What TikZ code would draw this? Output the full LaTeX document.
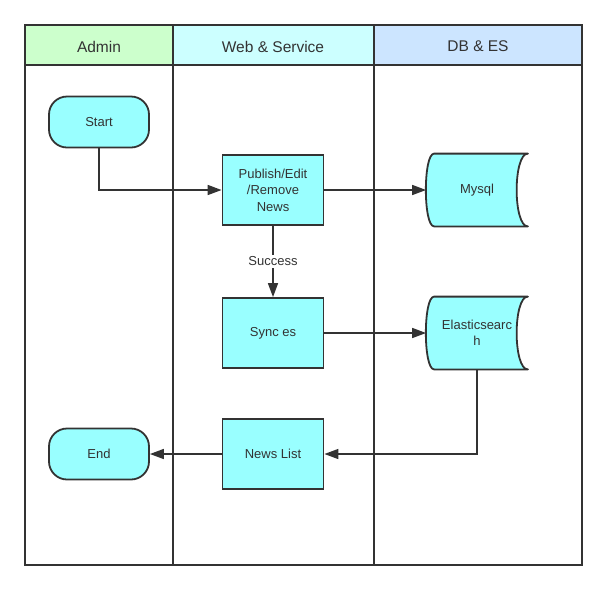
\documentclass[tikz,border=0pt]{standalone}
\usepackage{fontspec}
\setmainfont{Liberation Sans}
\usetikzlibrary{arrows.meta,backgrounds}
\definecolor{adminbg}{HTML}{CCFFCC}
\definecolor{webbg}{HTML}{CCFFFF}
\definecolor{dbbg}{HTML}{CCE5FF}
\definecolor{boxbg}{HTML}{99FFFF}
\definecolor{ink}{HTML}{333333}
\begin{document}
\begin{tikzpicture}[x=1pt, y=-1pt, line width=1.8pt, color=ink,
  every node/.style={font=\fontsize{13}{16.5}\selectfont, align=center},
  lanehead/.style={font=\fontsize{15.5}{18}\selectfont},
  terminal/.style={draw, fill=boxbg, rounded corners=18pt, minimum width=100pt, minimum height=51pt},
  process/.style={draw, fill=boxbg, minimum width=101pt, minimum height=70pt},
  store/.style={minimum width=100pt, minimum height=71pt},
  storeline/.style={draw=ink, line width=1.8pt, line join=round, fill=boxbg},
  flow/.style={line width=1.6pt, -{Triangle[length=14pt,width=10pt]}}]
\useasboundingbox (0,0) rectangle (607,590);

% lane headers
\filldraw[fill=adminbg] (25,25) rectangle (173,65);
\filldraw[fill=webbg] (173,25) rectangle (374,65);
\filldraw[fill=dbbg] (374,25) rectangle (582,65);
\node[lanehead] (admin) at (99,46.5) {Admin};
\node[lanehead] (web) at (273,46.5) {Web \& Service};
\node[lanehead] (db) at (478,46.5) {DB \& ES};

% lanes
\draw (25,25) rectangle (582,565);
\draw (173,65) -- (173,565);
\draw (374,65) -- (374,565);

% steps
\node[terminal] (start) at (99,122) {Start};
\node[process] (publish) at (273,190) {Publish/Edit\\/Remove\\News};
\node[process] (sync) at (273,333) {Sync es};
\node[process] (list) at (273,454) {News List};
\node[terminal] (end) at (99,454) {End};
\node[store] (mysql) at (477,190) {Mysql};
\node[store] (es) at (477,333) {Elasticsearc\\h};

% stored data outlines
\begin{scope}[on background layer]
\foreach \s in {mysql,es}
  \path[storeline] ([xshift=8pt]\s.north west) -- (\s.north east)
    .. controls ([xshift=-15pt]\s.north east) and ([xshift=-15pt]\s.south east) .. (\s.south east)
    -- ([xshift=8pt]\s.south west)
    .. controls ([xshift=-3pt]\s.south west) and ([xshift=-3pt]\s.north west) .. cycle;
\end{scope}

% flow
\draw[flow] (start) |- (publish);
\draw[flow] (publish) -- (mysql);
\draw[flow] (publish) -- node[fill=white, inner sep=2pt] (ok) {Success} (sync);
\draw[flow] (sync) -- (es);
\draw[flow] (es) |- (list);
\draw[flow] (list) -- (end);
\end{tikzpicture}
\end{document}
